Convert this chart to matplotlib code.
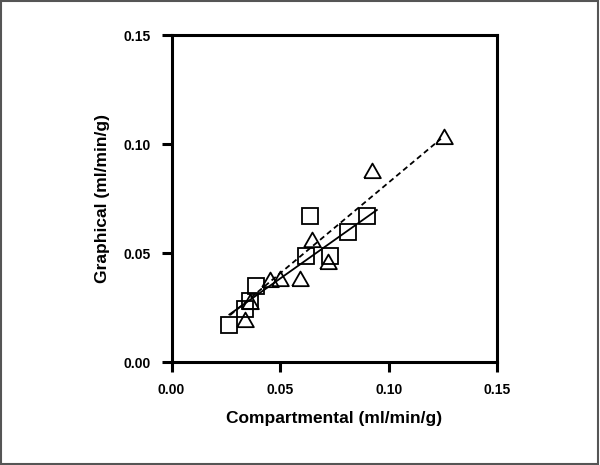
import matplotlib.pyplot as plt
from matplotlib.patches import Rectangle

plt.rcParams['font.family'] = ['Liberation Sans', 'DejaVu Sans']

# squares
sq_x = [0.0266, 0.0338, 0.0361, 0.0389, 0.0620, 0.0727, 0.0638, 0.0811, 0.0900]
sq_y = [0.0168, 0.0242, 0.0280, 0.0349, 0.0488, 0.0488, 0.0669, 0.0597, 0.0669]

# triangles
tri_x = [0.0338, 0.0362, 0.0451, 0.0500, 0.0589, 0.0648, 0.0720, 0.0923, 0.1254]
tri_y = [0.0192, 0.0275, 0.0377, 0.0379, 0.0380, 0.0560, 0.0459, 0.0877, 0.1031]

# regression lines (end points)
fit_sq_x = [0.0266, 0.0945]
fit_sq_y = [0.0218, 0.0698]
fit_tri_x = [0.0269, 0.1240]
fit_tri_y = [0.0215, 0.1025]

ticks = [0.00, 0.05, 0.10, 0.15]
tick_labels = ['0.00', '0.05', '0.10', '0.15']

fig = plt.figure(figsize=(6, 4.65), dpi=100)
ax = fig.add_axes([0.286, 0.2215, 0.543, 0.7025])

tri_marker = [(-1, -0.8), (1, -0.8), (0, 0.95), (-1, -0.8)]

ax.plot(fit_sq_x, fit_sq_y, color='black', lw=1.3, zorder=3)
ax.plot(fit_tri_x, fit_tri_y, color='black', lw=1.3, ls=(0, (3, 2)), zorder=3)
ax.plot(sq_x, sq_y, ls='none', marker='s', ms=12, mfc='none', mec='black', mew=1.3, zorder=4)
ax.plot(tri_x, tri_y, ls='none', marker=tri_marker, ms=12, mfc='none', mec='black', mew=1.3, zorder=4)

ax.set_xlim(0, 0.15)
ax.set_ylim(0, 0.15)
ax.set_xticks(ticks)
ax.set_xticklabels(tick_labels)
ax.set_yticks(ticks)
ax.set_yticklabels(tick_labels)

for s in ax.spines.values():
    s.set_linewidth(2.2)
ax.tick_params(width=2.2, length=7, pad=8, labelsize=10)
for lab in ax.get_xticklabels() + ax.get_yticklabels():
    lab.set_fontweight('bold')

ax.set_xlabel('Compartmental (ml/min/g)', fontsize=12.5, fontweight='bold', labelpad=10)
ax.set_ylabel('Graphical (ml/min/g)', fontsize=12.5, fontweight='bold', labelpad=10)

fig.patches.append(Rectangle((0.002, 0.003), 0.995, 0.994, transform=fig.transFigure,
                             fill=False, edgecolor='#555555', lw=1.5))

fig.savefig('out.png', dpi=100)
